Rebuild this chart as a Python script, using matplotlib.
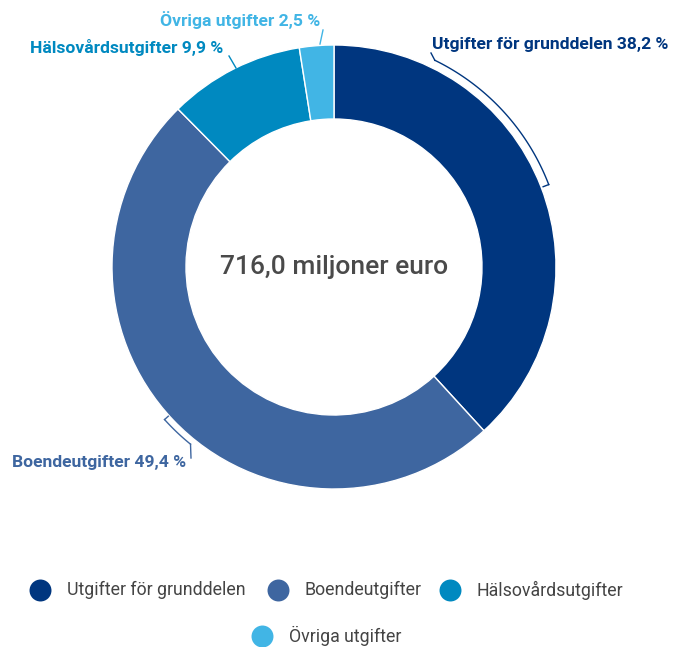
import numpy as np
import matplotlib.pyplot as plt

plt.rcParams['font.family'] = ['Roboto', 'DejaVu Sans']

categories = ["Utgifter för grunddelen", "Boendeutgifter", "Hälsovårdsutgifter", "Övriga utgifter"]
shares = [38.2, 49.4, 9.9, 2.5]
colors = ["#00367f", "#3e66a0", "#0089c0", "#41b5e5"]
total_label = "716,0 miljoner euro"

W, H = 678, 647
fig = plt.figure(figsize=(W / 100, H / 100), dpi=100)
ax = fig.add_axes([0, 0, 1, 1])

cx, cy = 334, H - 267
R = 222
ax.pie(shares, colors=colors, startangle=90, counterclock=False,
       center=(cx, cy), radius=R,
       wedgeprops=dict(width=74, edgecolor="white", linewidth=1))
ax.set_xlim(0, W)
ax.set_ylim(0, H)
ax.set_aspect("equal")
ax.axis("off")


def P(x, y):
    return x, H - y


def label(cat, x, y, col):
    i = categories.index(cat)
    s = f"{cat} {shares[i]:.1f} %".replace(".", ",")
    ax.text(*P(x, y), s, color=col, fontsize=12.6, fontweight="bold",
            ha="left", va="center")


def arc(a0, a1, r):
    t = np.radians(np.linspace(a0, a1, 60))
    return cx + r * np.cos(t), cy + r * np.sin(t)


lw = 1.0
# Utgifter för grunddelen
label(categories[0], 432, 45, colors[0])
xs, ys = arc(64, 21, 230)
ax.plot(xs, ys, color=colors[0], lw=lw)
ax.plot([xs[0], 431], [ys[0], H - 53], color=colors[0], lw=lw)
t = np.radians(21)
ax.plot([xs[-1], cx + 224 * np.cos(t)], [ys[-1], cy + 224 * np.sin(t)], color=colors[0], lw=lw)

# Boendeutgifter
label(categories[1], 12, 463, colors[1])
xs, ys = arc(222, 231, 228)
ax.plot(xs, ys, color=colors[1], lw=lw)
t = np.radians(222)
ax.plot([xs[0], cx + 223 * np.cos(t)], [ys[0], cy + 223 * np.sin(t)], color=colors[1], lw=lw)
ax.plot([xs[-1], 191], [ys[-1], H - 458], color=colors[1], lw=lw)

# Hälsovårdsutgifter
label(categories[2], 30, 47, colors[2])
ax.plot(*zip(P(229, 56), P(236, 68)), color=colors[2], lw=lw)

# Övriga utgifter
label(categories[3], 160, 20, colors[3])
ax.plot(*zip(P(323, 30), P(320, 44)), color=colors[3], lw=lw)

ax.text(cx, cy, total_label, fontsize=19, fontweight="medium", color="#4a4a4a",
        ha="center", va="center")

# legend
leg_pos = [(40, 590), (278, 590), (450, 590), (262, 636)]
for cat, col, (x, y) in zip(categories, colors, leg_pos):
    ax.scatter(*P(x, y), s=250, color=col, linewidths=0)
    ax.text(*P(x + 27, y), cat, fontsize=12.8, color="#444444", ha="left", va="center")

fig.savefig("out.png", dpi=100)
